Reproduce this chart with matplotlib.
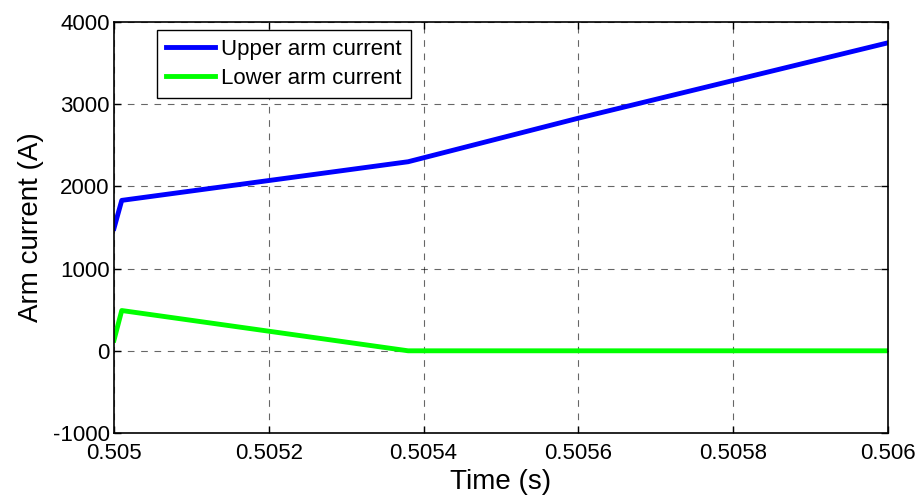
import matplotlib
matplotlib.use("Agg")
import matplotlib.pyplot as plt

plt.rcParams['font.family'] = ['Liberation Sans', 'DejaVu Sans']
plt.rcParams['axes.unicode_minus'] = False

upper_t = [0.505, 0.50501, 0.50538, 0.5056, 0.506]
upper_i = [1490, 1830, 2300, 2830, 3747]
lower_t = [0.505, 0.50501, 0.50538, 0.506]
lower_i = [130, 490, 0, 0]

xticks = [0.505, 0.5052, 0.5054, 0.5056, 0.5058, 0.506]
xticklabels = ['0.505', '0.5052', '0.5054', '0.5056', '0.5058', '0.506']
yticks = [-1000, 0, 1000, 2000, 3000, 4000]

fig = plt.figure(figsize=(9.22, 5.0), dpi=100)
ax = fig.add_axes([114/922, 1-433/500, (888-114)/922, (433-22)/500])
ax.plot(upper_t, upper_i, color='#0000ff', lw=3.5, label='Upper arm current')
ax.plot(lower_t, lower_i, color='#00ff00', lw=3.5, label='Lower arm current')
ax.set_xlim(0.505, 0.506)
ax.set_ylim(-1000, 4000)
ax.set_xticks(xticks)
ax.set_xticklabels(xticklabels)
ax.set_yticks(yticks)
ax.tick_params(labelsize=16, direction='in', length=5, width=1, top=True, right=True)
ax.tick_params(axis='x', pad=7)
ax.tick_params(axis='y', pad=3)
ax.grid(True, color='black', linestyle=(0, (6, 6)), linewidth=0.8, alpha=0.6)
for s in ax.spines.values():
    s.set_linewidth(1.2)
ax.set_xlabel('Time (s)', fontsize=20, labelpad=4)
ax.set_ylabel('Arm current (A)', fontsize=20, labelpad=6)
leg = ax.legend(loc='upper left', bbox_to_anchor=((157-114)/774, (433-30)/411), fontsize=16,
                fancybox=False, edgecolor='black', framealpha=1, handlelength=2.2,
                borderpad=0.4, labelspacing=0.35, handletextpad=0.3, borderaxespad=0)
leg.get_frame().set_linewidth(1.0)
fig.savefig('out.png', dpi=100)
